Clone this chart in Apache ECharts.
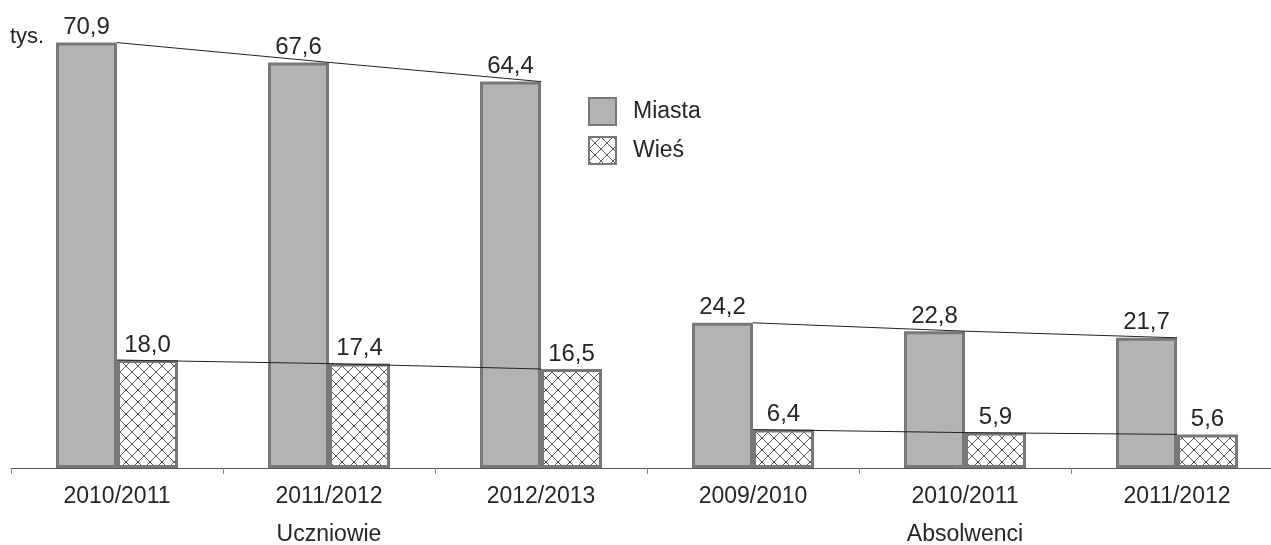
<!DOCTYPE html>
<html>
<head>
<meta charset="utf-8">
<script src="https://cdn.jsdelivr.net/npm/echarts@6/dist/echarts.min.js"></script>
<style>html,body{margin:0;padding:0;background:#fff}#c{width:1271px;height:545px}</style>
</head>
<body>
<div id="c"></div>
<script>
const categories = ['2010/2011','2011/2012','2012/2013','2009/2010','2010/2011','2011/2012'];
const groups = ['Uczniowie','Absolwenci'];
const miasta = [70.9, 67.6, 64.4, 24.2, 22.8, 21.7];
const wies = [18.0, 17.4, 16.5, 6.4, 5.9, 5.6];
const unitLabel = 'tys.';

const FONT = 'Liberation Sans, Arial, sans-serif';
const TXT = '#262626';

function hatch() {
  const c = document.createElement('canvas');
  c.width = 12; c.height = 12;
  const g = c.getContext('2d');
  g.fillStyle = '#fff'; g.fillRect(0,0,12,12);
  g.strokeStyle = '#5a5a5a'; g.lineWidth = 1;
  g.beginPath();
  g.moveTo(0,0); g.lineTo(12,12);
  g.moveTo(12,0); g.lineTo(0,12);
  g.stroke();
  return c;
}

function part(arr, from, to) {
  return arr.map((v, i) => (i >= from && i < to) ? v : '-');
}
const fmt = p => p.value.toFixed(1).replace('.', ',');

const labelCfg = { show: true, position: 'top', distance: 3, fontSize: 24, color: TXT, fontFamily: FONT, formatter: fmt };

function lineSeries(arr, from, to) {
  return {
    type: 'line', data: part(arr, from, to), symbol: 'none', z: 5, silent: true,
    lineStyle: { color: '#222', width: 1 }, legendHoverLink: false
  };
}

const chart = echarts.init(document.getElementById('c'), null, { renderer: 'canvas' });
chart.setOption({
  animation: false,
  textStyle: { fontFamily: FONT },
  grid: { left: 11, width: 1272, top: 0, height: 468, containLabel: false, outerBoundsMode: 'none' },
  graphic: [{ type: 'text', left: 10, top: 26, style: { text: unitLabel, fontSize: 22, fill: TXT, fontFamily: FONT } }],
  legend: {
    orient: 'vertical', left: 588, top: 97, padding: 0, itemWidth: 27, itemHeight: 27, itemGap: 10,
    data: ['Miasta', 'Wieś'], icon: 'rect',
    textStyle: { fontSize: 23, color: TXT, fontFamily: FONT, padding: [0, 0, 0, 12] }
  },
  xAxis: [
    {
      type: 'category', data: categories, position: 'bottom',
      axisLine: { lineStyle: { color: '#555', width: 1 } },
      axisTick: { show: true, length: 6, lineStyle: { color: '#888' } },
      axisLabel: { fontSize: 23, color: TXT, margin: 17, fontFamily: FONT }
    },
    {
      type: 'category', data: groups, position: 'bottom', offset: 38,
      axisLine: { show: false }, axisTick: { show: false },
      axisLabel: { fontSize: 23, color: TXT, margin: 17, fontFamily: FONT }
    }
  ],
  yAxis: { type: 'value', min: 0, max: 78, show: false },
  series: [
    {
      name: 'Miasta', type: 'bar', data: miasta, barWidth: 61, barGap: '0%',
      itemStyle: { color: '#b3b3b3', borderColor: '#787878', borderWidth: 3 },
      label: labelCfg
    },
    {
      name: 'Wieś', type: 'bar', data: wies, barWidth: 61, barGap: '0%',
      itemStyle: { color: { image: hatch(), repeat: 'repeat' }, borderColor: '#787878', borderWidth: 3 },
      label: labelCfg
    },
    lineSeries(miasta, 0, 3), lineSeries(miasta, 3, 6),
    lineSeries(wies, 0, 3), lineSeries(wies, 3, 6)
  ]
});
</script>
</body>
</html>
